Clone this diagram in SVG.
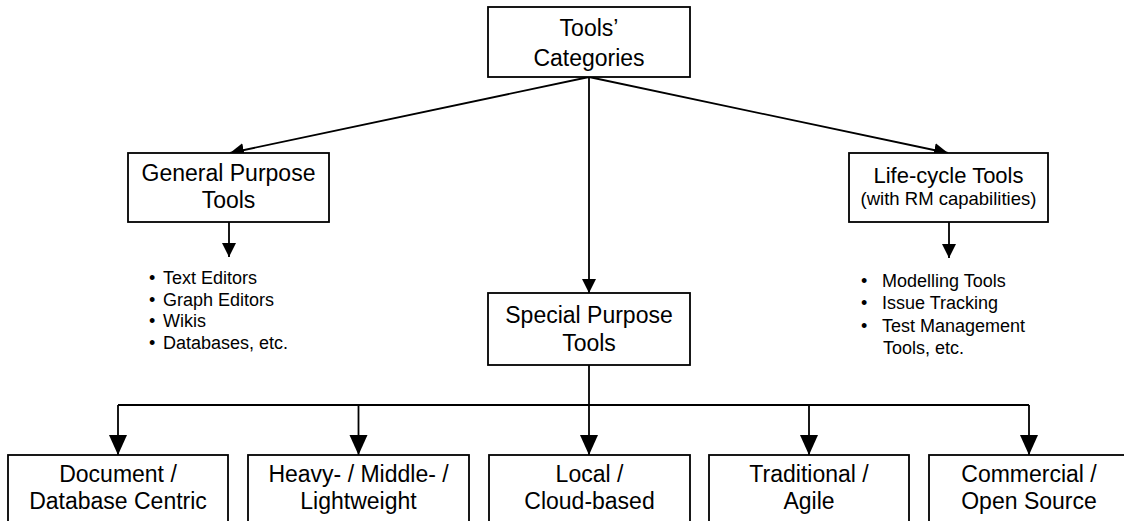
<svg xmlns="http://www.w3.org/2000/svg" width="1124" height="521" viewBox="0 0 1124 521">
  <style>
    .box { fill: #ffffff; stroke: #000000; stroke-width: 1.8; }
    .lbl { font-family: "Liberation Sans", Arial, sans-serif; font-size: 23px; fill: #000000; text-anchor: middle; }
    .sub { font-family: "Liberation Sans", Arial, sans-serif; font-size: 18.5px; fill: #000000; text-anchor: middle; }
    .item { font-family: "Liberation Sans", Arial, sans-serif; font-size: 18px; fill: #000000; }
    .wire { fill: none; stroke: #000000; stroke-width: 1.8; }
  </style>
  <defs>
    <marker id="head" markerUnits="userSpaceOnUse" markerWidth="15" markerHeight="15" refX="14" refY="7" orient="auto">
      <path d="M0,0 L14,7 L0,14 z" fill="#000000"/>
    </marker>
    <marker id="headBig" markerUnits="userSpaceOnUse" markerWidth="21" markerHeight="19" refX="20" refY="9" orient="auto">
      <path d="M0,0 L20,9 L0,18 z" fill="#000000"/>
    </marker>
  </defs>

  <rect width="1124" height="521" fill="#ffffff"/>

  <!-- connectors -->
  <g id="connectors">
    <line class="wire" x1="589" y1="77" x2="230" y2="153" marker-end="url(#head)"/>
    <line class="wire" x1="589" y1="77" x2="589" y2="293" marker-end="url(#head)"/>
    <line class="wire" x1="589" y1="77" x2="948" y2="153" marker-end="url(#head)"/>
    <line class="wire" x1="229" y1="222" x2="229" y2="257" marker-end="url(#head)"/>
    <line class="wire" x1="949" y1="222" x2="949" y2="258" marker-end="url(#head)"/>
    <path class="wire" d="M589,365 V405 M118,405 H1029"/>
    <line class="wire" x1="118" y1="405" x2="118" y2="455" marker-end="url(#headBig)"/>
    <line class="wire" x1="358.5" y1="405" x2="358.5" y2="455" marker-end="url(#headBig)"/>
    <line class="wire" x1="589" y1="405" x2="589" y2="455" marker-end="url(#headBig)"/>
    <line class="wire" x1="809" y1="405" x2="809" y2="455" marker-end="url(#headBig)"/>
    <line class="wire" x1="1029" y1="405" x2="1029" y2="455" marker-end="url(#headBig)"/>
  </g>

  <g id="tools-categories">
    <rect class="box" x="488" y="7" width="202" height="70"/>
    <text class="lbl" x="589" y="36">Tools’</text>
    <text class="lbl" x="589" y="66">Categories</text>
  </g>

  <g id="general-purpose">
    <rect class="box" x="128" y="153" width="201" height="69"/>
    <text class="lbl" x="228.5" y="181">General Purpose</text>
    <text class="lbl" x="228.5" y="208">Tools</text>
  </g>

  <g id="general-list">
    <text class="item" x="149" y="284">•</text><text class="item" x="163" y="284">Text Editors</text>
    <text class="item" x="149" y="305.5">•</text><text class="item" x="163" y="305.5">Graph Editors</text>
    <text class="item" x="149" y="327">•</text><text class="item" x="163" y="327">Wikis</text>
    <text class="item" x="149" y="348.5">•</text><text class="item" x="163" y="348.5">Databases, etc.</text>
  </g>

  <g id="life-cycle">
    <rect class="box" x="849" y="153" width="199" height="69"/>
    <text class="lbl" x="948.5" y="183" style="font-size:22px">Life-cycle Tools</text>
    <text class="sub" x="948.5" y="205">(with RM capabilities)</text>
  </g>

  <g id="life-cycle-list">
    <text class="item" x="861" y="286.5">•</text><text class="item" x="882" y="286.5">Modelling Tools</text>
    <text class="item" x="861" y="309">•</text><text class="item" x="882" y="309">Issue Tracking</text>
    <text class="item" x="861" y="331.5">•</text><text class="item" x="882" y="331.5">Test Management</text>
    <text class="item" x="883" y="354">Tools, etc.</text>
  </g>

  <g id="special-purpose">
    <rect class="box" x="488" y="293" width="202" height="72"/>
    <text class="lbl" x="589" y="323">Special Purpose</text>
    <text class="lbl" x="589" y="350.5">Tools</text>
  </g>

  <g id="document-database">
    <rect class="box" x="8" y="455" width="220" height="80"/>
    <text class="lbl" x="118" y="481.5">Document /</text>
    <text class="lbl" x="118" y="509">Database Centric</text>
  </g>

  <g id="weight">
    <rect class="box" x="248" y="455" width="221" height="80"/>
    <text class="lbl" x="358.5" y="481.5">Heavy- / Middle- /</text>
    <text class="lbl" x="358.5" y="509">Lightweight</text>
  </g>

  <g id="local-cloud">
    <rect class="box" x="489" y="455" width="201" height="80"/>
    <text class="lbl" x="589.5" y="481.5">Local /</text>
    <text class="lbl" x="589.5" y="509">Cloud-based</text>
  </g>

  <g id="traditional-agile">
    <rect class="box" x="709" y="455" width="200" height="80"/>
    <text class="lbl" x="809" y="481.5">Traditional /</text>
    <text class="lbl" x="809" y="509">Agile</text>
  </g>

  <g id="commercial-open">
    <rect class="box" x="929" y="455" width="200" height="80"/>
    <text class="lbl" x="1029" y="481.5">Commercial /</text>
    <text class="lbl" x="1029" y="509">Open Source</text>
  </g>
</svg>
